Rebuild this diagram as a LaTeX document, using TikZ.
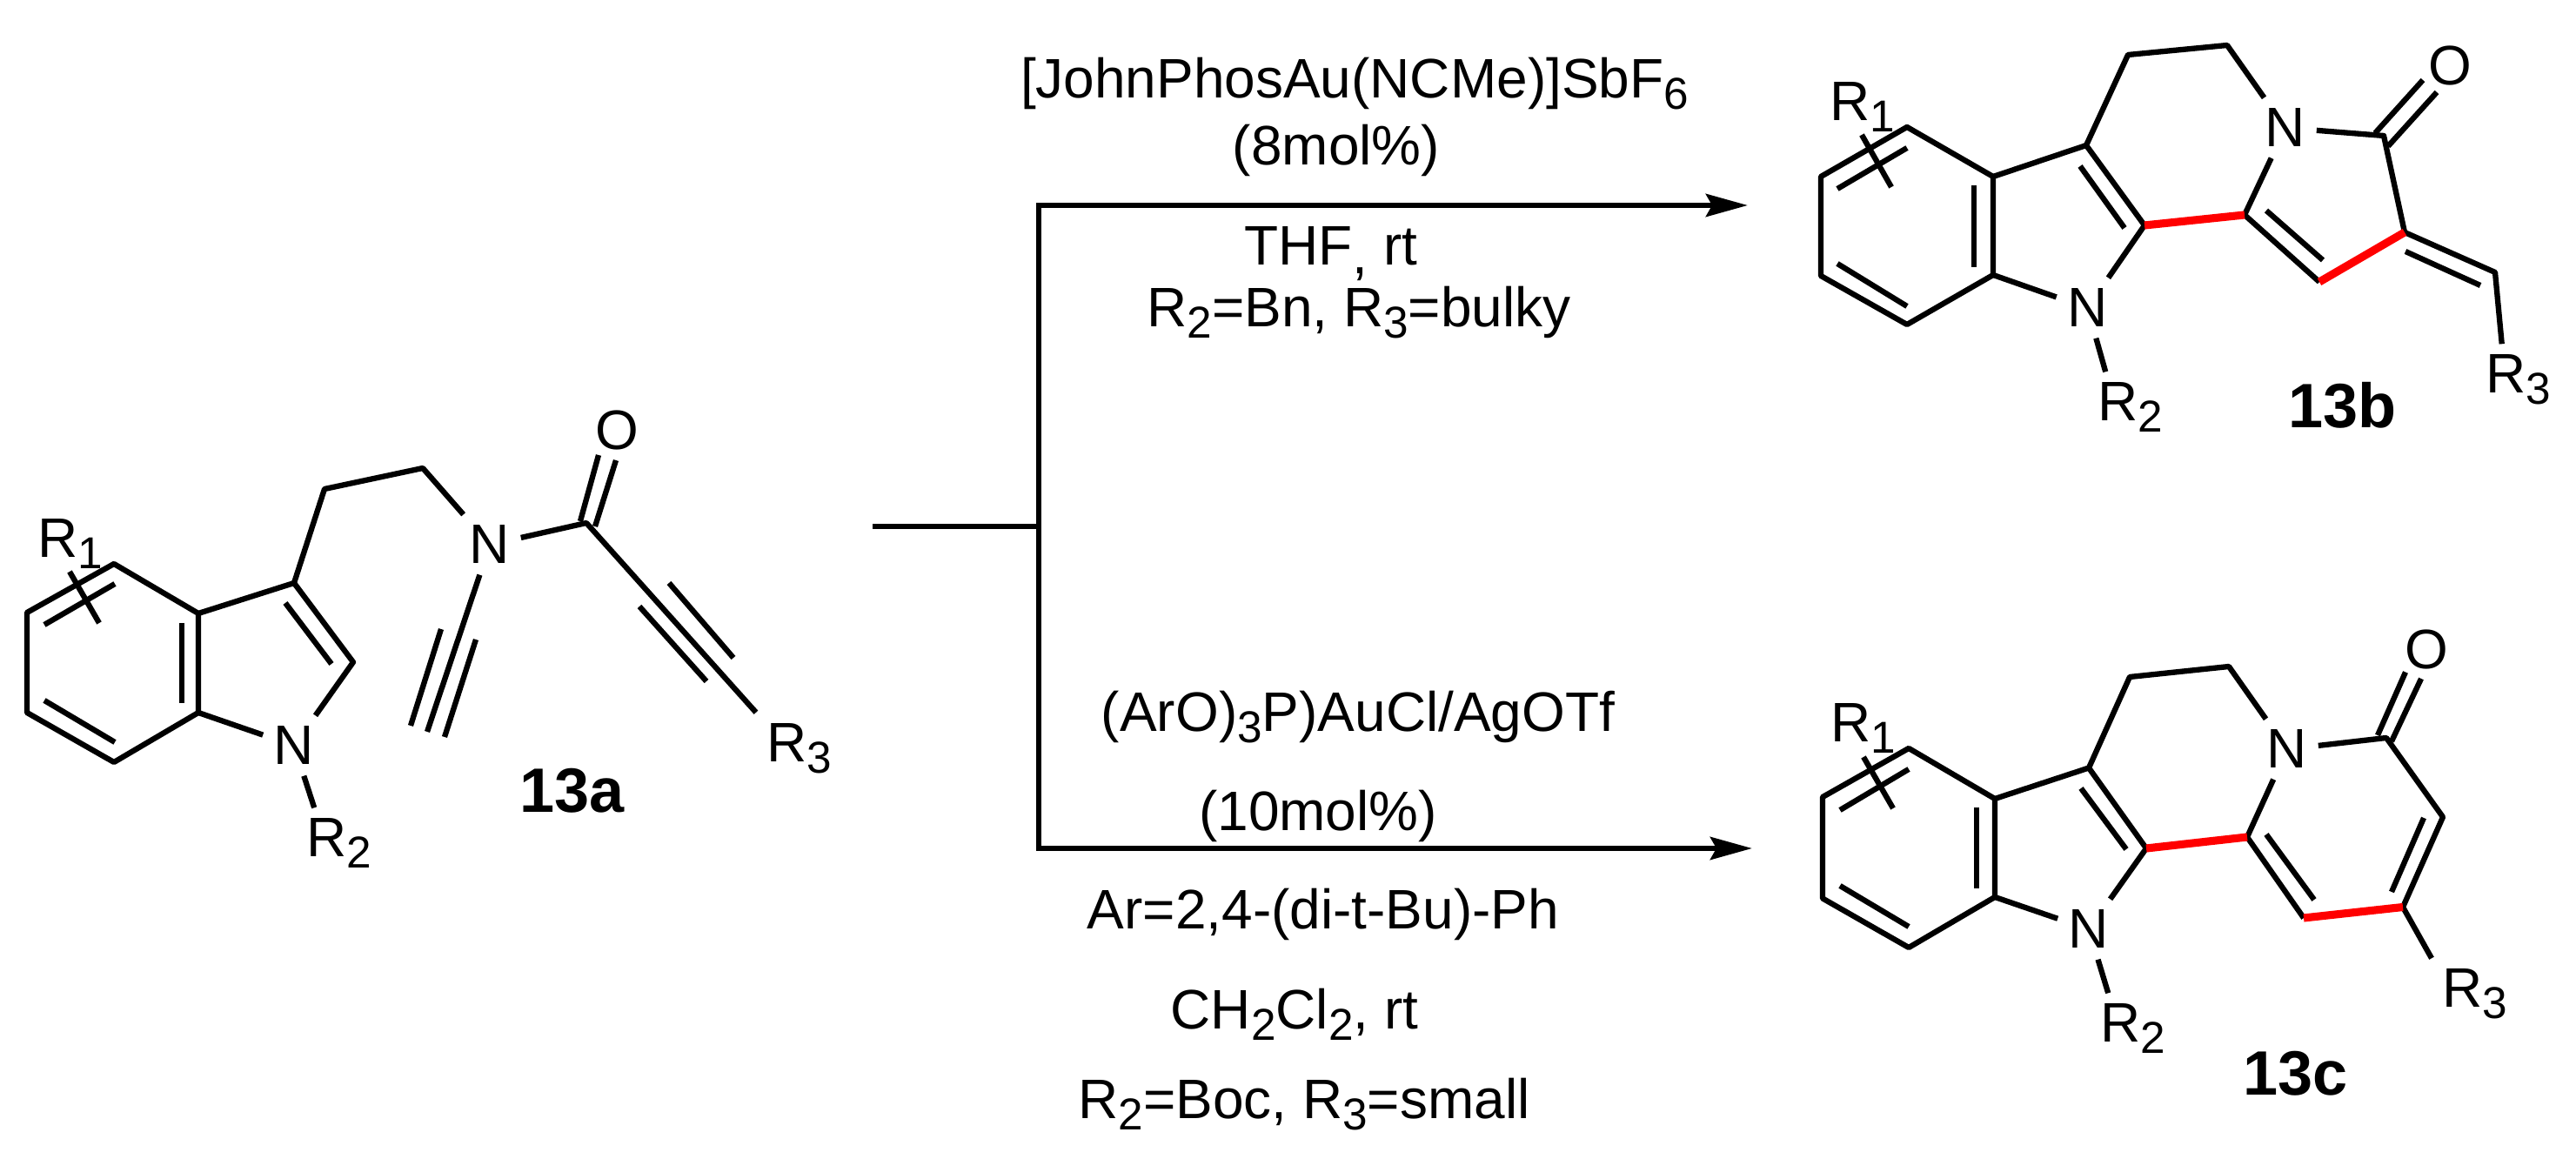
\documentclass[tikz,border=0pt]{standalone}
\usepackage{fontspec}
\setmainfont{Liberation Sans}
\usetikzlibrary{arrows.meta}

\newcommand{\sbs}[1]{\raisebox{-0.13cm}{\fontsize{14.6}{15}\selectfont #1}}

\tikzset{
  bond/.style={line width=1.8pt,line join=round},
  newbond/.style={line width=2.6pt,red},
  flow/.style={line width=1.8pt,line join=miter},
  atom/.style={inner sep=0.12cm,font=\fontsize{18.2}{19}\selectfont},
  rgroup/.style={inner sep=0.12cm,xshift=-0.17cm,anchor=base west,font=\fontsize{18.2}{19}\selectfont},
  reagent/.style={inner sep=0pt,anchor=base,font=\fontsize{18.2}{19}\selectfont},
  compound/.style={inner sep=0pt,anchor=base west,font=\fontsize{20.5}{21}\selectfont\bfseries},
}

\begin{document}
\begin{tikzpicture}
  \useasboundingbox (0,0) rectangle (29.61,-13.32);

  % substrate
  \coordinate (a1) at (1.31,-6.48); \coordinate (a2) at (2.28,-7.05);
  \coordinate (a3) at (2.28,-8.19); \coordinate (a4) at (1.31,-8.76);
  \coordinate (a5) at (0.31,-8.19); \coordinate (a6) at (0.31,-7.04);
  \coordinate (a7) at (3.38,-6.70); \coordinate (a8) at (4.06,-7.61);
  \coordinate (a9) at (3.73,-5.62); \coordinate (a10) at (4.86,-5.38);
  \coordinate (a11) at (6.74,-6.01); \coordinate (a12) at (4.91,-8.41);
  \node[atom] (Na1) at (3.38,-8.57) {N};
  \node[atom] (Na2) at (5.63,-6.26) {N};
  \node[atom] (Oa) at (7.09,-4.94) {O};
  \node[rgroup] (Ra1) at (0.48,-6.41) {R\sbs{1}};
  \node[rgroup] (Ra2) at (3.57,-9.85) {R\sbs{2}};
  \node[rgroup] (Ra3) at (8.86,-8.755) {R\sbs{3}};
  \node[compound] (lba) at (5.97,-9.34) {13a};

  \draw[bond] (a1) -- (a2) -- (a3) -- (a4) -- (a5) -- (a6) -- cycle;
  \draw[bond] (a2) -- (a7) -- (a8) -- (Na1) -- (a3);
  \draw[bond] (a7) -- (a9) -- (a10) -- (Na2) -- (a11) -- (Ra3.north west);
  \draw[bond] (Na1) -- (Ra2.125);
  \draw[bond] (Na2) -- (a12);
  \draw[bond] (1.32,-6.71) -- (0.51,-7.18);
  \draw[bond] (2.09,-7.16) -- (2.09,-8.08);
  \draw[bond] (1.32,-8.53) -- (0.51,-8.05);
  \draw[bond] (3.28,-6.93) -- (3.81,-7.63);
  \draw[bond] (0.80,-6.57) -- (1.14,-7.16);
  \draw[bond] (6.67,-5.99) -- (6.88,-5.23);
  \draw[bond] (6.84,-6.05) -- (7.08,-5.29);
  \draw[bond] (7.69,-6.70) -- (8.43,-7.56);
  \draw[bond] (7.35,-6.97) -- (8.12,-7.83);
  \draw[bond] (5.07,-7.23) -- (4.72,-8.34);
  \draw[bond] (5.47,-7.35) -- (5.11,-8.47);

  % arrows
  \coordinate (J0) at (10.03,-6.05);
  \coordinate (J) at (11.94,-6.05);
  \coordinate (Jb) at (11.94,-2.36);
  \coordinate (Jc) at (11.94,-9.75);
  \coordinate (Eb) at (20.09,-2.36);
  \coordinate (Ec) at (20.14,-9.75);
  \draw[flow] (J0) -- (J);
  \draw[flow,-{Stealth[length=0.48cm,width=0.26cm,inset=0.07cm]}] (J) -- (Jb) -- (Eb);
  \draw[flow,-{Stealth[length=0.48cm,width=0.26cm,inset=0.07cm]}] (J) -- (Jc) -- (Ec);

  % conditions
  \node[reagent] (rb1) at (15.57,-1.13) {[JohnPhosAu(NCMe)]SbF\sbs{6}};
  \node[reagent] (rb2) at (15.36,-1.90) {(8mol\%)};
  \node[reagent] (rb3) at (15.30,-3.05) {THF\raisebox{-0.1cm}{,} rt};
  \node[reagent] (rb4) at (15.62,-3.76) {R\sbs{2}=Bn, R\sbs{3}=bulky};
  \node[reagent] (rc1) at (15.61,-8.41) {(ArO)\sbs{3}P)AuCl/AgOTf};
  \node[reagent] (rc2) at (15.15,-9.55) {(10mol\%)};
  \node[reagent] (rc3) at (15.21,-10.68) {Ar=2,4-(di-t-Bu)-Ph};
  \node[reagent] (rc4) at (14.88,-11.825) {CH\sbs{2}Cl\sbs{2}, rt};
  \node[reagent] (rc5) at (14.99,-12.86) {R\sbs{2}=Boc, R\sbs{3}=small};

  % product, five-membered ring
  \coordinate (b1) at (21.92,-1.46); \coordinate (b2) at (22.91,-2.03);
  \coordinate (b3) at (22.91,-3.16); \coordinate (b4) at (21.92,-3.73);
  \coordinate (b5) at (20.93,-3.17); \coordinate (b6) at (20.93,-2.03);
  \coordinate (b7) at (23.98,-1.67); \coordinate (b8) at (24.65,-2.59);
  \coordinate (b9) at (24.46,-0.63); \coordinate (b10) at (25.60,-0.52);
  \coordinate (b11) at (27.40,-1.56); \coordinate (b12) at (25.80,-2.47);
  \coordinate (b13) at (26.66,-3.24); \coordinate (b14) at (27.64,-2.67);
  \coordinate (b15) at (28.68,-3.13);
  \node[atom] (Nb1) at (23.995,-3.54) {N};
  \node[atom] (Nb2) at (26.27,-1.47) {N};
  \node[atom] (Ob) at (28.16,-0.75) {O};
  \node[rgroup] (Rb1) at (21.08,-1.39) {R\sbs{1}};
  \node[rgroup] (Rb2) at (24.16,-4.84) {R\sbs{2}};
  \node[rgroup] (Rb3) at (28.62,-4.52) {R\sbs{3}};
  \node[compound] (lbb) at (26.30,-4.92) {13b};

  \draw[bond] (b1) -- (b2) -- (b3) -- (b4) -- (b5) -- (b6) -- cycle;
  \draw[bond] (b2) -- (b7) -- (b8) -- (Nb1) -- (b3);
  \draw[bond] (b7) -- (b9) -- (b10) -- (Nb2) -- (b11) -- (b14);
  \draw[bond] (Nb2) -- (b12) -- (b13);
  \draw[bond] (b14) -- (b15) -- (Rb3.115);
  \draw[bond] (Nb1) -- (Rb2.125);
  \draw[newbond] (b8) -- (b12);
  \draw[newbond] (b13) -- (b14);
  \draw[bond] (21.92,-1.70) -- (21.12,-2.17);
  \draw[bond] (22.69,-2.13) -- (22.69,-3.07);
  \draw[bond] (21.92,-3.52) -- (21.12,-3.03);
  \draw[bond] (23.91,-1.91) -- (24.42,-2.62);
  \draw[bond] (21.40,-1.55) -- (21.74,-2.15);
  \draw[bond] (26.05,-2.42) -- (26.70,-2.99);
  \draw[bond] (27.65,-2.89) -- (28.51,-3.28);
  \draw[bond] (27.30,-1.53) -- (27.85,-0.92);
  \draw[bond] (27.45,-1.68) -- (28.01,-1.06);

  % product, six-membered ring
  \coordinate (c1) at (21.94,-8.60); \coordinate (c2) at (22.93,-9.18);
  \coordinate (c3) at (22.93,-10.31); \coordinate (c4) at (21.94,-10.89);
  \coordinate (c5) at (20.95,-10.325); \coordinate (c6) at (20.95,-9.16);
  \coordinate (c7) at (24.01,-8.825); \coordinate (c8) at (24.67,-9.75);
  \coordinate (c9) at (24.48,-7.78); \coordinate (c10) at (25.62,-7.66);
  \coordinate (c11) at (27.43,-8.48); \coordinate (c12) at (25.83,-9.62);
  \coordinate (c13) at (26.48,-10.55); \coordinate (c14) at (27.62,-10.425);
  \coordinate (c15) at (28.08,-9.39);
  \node[atom] (Nc1) at (24.01,-10.68) {N};
  \node[atom] (Nc2) at (26.29,-8.61) {N};
  \node[atom] (Oc) at (27.89,-7.46) {O};
  \node[rgroup] (Rc1) at (21.09,-8.53) {R\sbs{1}};
  \node[rgroup] (Rc2) at (24.19,-11.98) {R\sbs{2}};
  \node[rgroup] (Rc3) at (28.12,-11.58) {R\sbs{3}};
  \node[compound] (lbc) at (25.78,-12.59) {13c};

  \draw[bond] (c1) -- (c2) -- (c3) -- (c4) -- (c5) -- (c6) -- cycle;
  \draw[bond] (c2) -- (c7) -- (c8) -- (Nc1) -- (c3);
  \draw[bond] (c7) -- (c9) -- (c10) -- (Nc2) -- (c11) -- (c15) -- (c14) -- (Rc3.north west);
  \draw[bond] (Nc2) -- (c12) -- (c13);
  \draw[bond] (Nc1) -- (Rc2.125);
  \draw[newbond] (c8) -- (c12);
  \draw[newbond] (c13) -- (c14);
  \draw[bond] (21.94,-8.84) -- (21.15,-9.31);
  \draw[bond] (22.72,-9.28) -- (22.72,-10.21);
  \draw[bond] (21.94,-10.65) -- (21.15,-10.18);
  \draw[bond] (23.92,-9.06) -- (24.44,-9.76);
  \draw[bond] (21.42,-8.70) -- (21.76,-9.29);
  \draw[bond] (26.05,-9.59) -- (26.60,-10.34);
  \draw[bond] (27.49,-10.25) -- (27.86,-9.40);
  \draw[bond] (27.33,-8.45) -- (27.65,-7.725);
  \draw[bond] (27.49,-8.52) -- (27.83,-7.80);
\end{tikzpicture}
\end{document}
